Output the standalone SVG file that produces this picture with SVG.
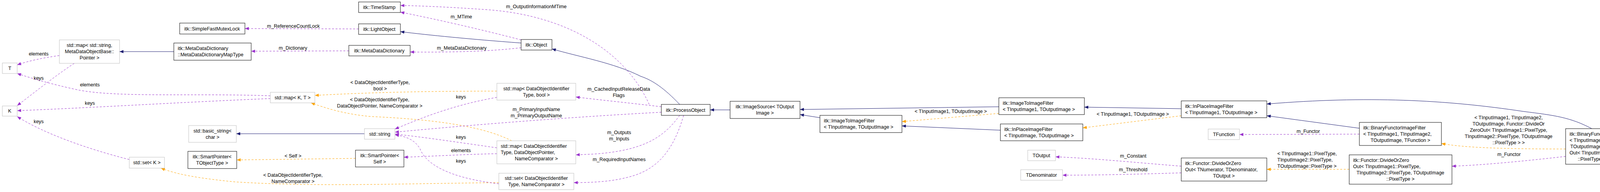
<svg xmlns="http://www.w3.org/2000/svg" width="4592" height="491" viewBox="0 0 4592 491">
<style>
text{font-family:"Liberation Sans",Arial,sans-serif;font-size:12.5px;fill:#000}
.c{text-anchor:middle}
.n rect{fill:#fff;stroke:#000;stroke-width:1}
.g rect{fill:#fff;stroke:#bfbfbf;stroke-width:1}
.h rect{fill:#bfbfbf;stroke:#000;stroke-width:1}
.i{fill:none;stroke:#191970;stroke-width:1;marker-end:url(#aN)}
.u{fill:none;stroke:#9a32cd;stroke-width:1;stroke-dasharray:5,4;marker-end:url(#aP)}
.t{fill:none;stroke:#ffa500;stroke-width:1;stroke-dasharray:5,4;marker-end:url(#aO)}
</style>
<defs>
<marker id="aN" viewBox="0 0 10 8" refX="10" refY="4" markerWidth="11" markerHeight="8" markerUnits="userSpaceOnUse" orient="auto"><path d="M0,0L10,4L0,8z" fill="#191970"/></marker>
<marker id="aP" viewBox="0 0 10 8" refX="10" refY="4" markerWidth="11" markerHeight="8" markerUnits="userSpaceOnUse" orient="auto"><path d="M0,0L10,4L0,8z" fill="#9a32cd"/></marker>
<marker id="aO" viewBox="0 0 10 8" refX="10" refY="4" markerWidth="11" markerHeight="8" markerUnits="userSpaceOnUse" orient="auto"><path d="M0,0L10,4L0,8z" fill="#ffa500"/></marker>
</defs>
<rect width="4592" height="491" fill="#fff"/>
<g id="connectors">
<path class="u" d="M918,74 L627,73"/>
<text class="c" x="751" y="71">m_ReferenceCountLock</text>
<path class="i" d="M1334,110 C1200,100 1100,90 1025,81"/>
<path class="u" d="M1334,102 C1230,75 1120,50 1025,31"/>
<text class="c" x="1181" y="47">m_MTime</text>
<path class="u" d="M1662,267 C1600,130 1450,40 1250,25 C1150,18 1080,15 1025,14"/>
<text class="c" x="1373" y="21">m_OutputInformationMTime</text>
<path class="u" d="M1334,122 C1250,132 1150,134 1050,133"/>
<text class="c" x="1182" y="127">m_MetaDataDictionary</text>
<path class="u" d="M893,130 L643,131"/>
<text class="c" x="750" y="127">m_Dictionary</text>
<path class="i" d="M445,132 L306,132"/>
<path class="u" d="M152,142 C110,148 75,155 44,166"/>
<text class="c" x="99" y="142">elements</text>
<path class="u" d="M190,162 C140,195 90,235 44,270"/>
<text class="c" x="99" y="204">keys</text>
<path class="u" d="M692,245 C500,238 300,250 200,230 C130,215 80,200 44,188"/>
<text class="c" x="230" y="221">elements</text>
<path class="u" d="M692,252 C450,262 250,275 44,283"/>
<text class="c" x="230" y="268">keys</text>
<path class="u" d="M331,408 C220,380 110,340 44,298"/>
<text class="c" x="99" y="315">keys</text>
<path class="t" d="M1272,233 C1100,233 950,236 806,244"/>
<text class="c" x="973" y="215">&lt; DataObjectIdentifierType,</text>
<text class="c" x="973" y="231">bool &gt;</text>
<path class="t" d="M1310,360 C1230,320 1100,305 950,298 C880,292 830,275 796,263"/>
<text class="c" x="972" y="259">&lt; DataObjectIdentifierType,</text>
<text class="c" x="972" y="275">DataObjectPointer, NameComparator &gt;</text>
<path class="t" d="M1277,467 C1000,470 800,478 600,465 C500,455 450,445 412,430"/>
<text class="c" x="750" y="452">&lt; DataObjectIdentifierType,</text>
<text class="c" x="750" y="468">NameComparator &gt;</text>
<path class="u" d="M1272,249 C1150,270 1060,310 1011,330"/>
<text class="c" x="1180" y="252">keys</text>
<path class="u" d="M1693,287 C1450,300 1200,320 1011,338"/>
<text class="c" x="1373" y="284">m_PrimaryInputName</text>
<text class="c" x="1373" y="300">m_PrimaryOutputName</text>
<path class="u" d="M1272,378 C1180,365 1080,350 1011,343"/>
<text class="c" x="1180" y="355">keys</text>
<path class="u" d="M1272,393 C1180,395 1100,400 1034,402"/>
<text class="c" x="1180" y="389">elements</text>
<path class="u" d="M1277,470 C1150,455 1090,420 1075,380 C1060,355 1035,348 1011,345"/>
<text class="c" x="1180" y="416">keys</text>
<path class="t" d="M910,405 L606,409"/>
<text class="c" x="750" y="403">&lt; Self &gt;</text>
<path class="i" d="M933,342 L605,342"/>
<path class="u" d="M1693,273 C1600,262 1530,255 1474,248"/>
<text class="c" x="1584" y="232">m_CachedInputReleaseData</text>
<text class="c" x="1584" y="248">Flags</text>
<path class="u" d="M1740,295 C1700,350 1650,385 1520,394 L1474,396"/>
<text class="c" x="1585" y="343">m_Outputs</text>
<text class="c" x="1585" y="359">m_Inputs</text>
<path class="u" d="M1750,295 C1720,400 1670,440 1600,455 C1560,465 1510,467 1469,467"/>
<text class="c" x="1585" y="412">m_RequiredInputNames</text>
<path class="i" d="M1740,267 C1700,225 1670,205 1640,195 C1570,160 1480,145 1413,125"/>
<path class="i" d="M1869,281 L1818,281"/>
<path class="i" d="M2099,301 L2048,293"/>
<path class="i" d="M2557,273 L2048,280"/>
<path class="t" d="M2557,290 L2309,311"/>
<text class="c" x="2434" y="289">&lt; TInputImage1, TOutputImage &gt;</text>
<path class="i" d="M2561,333 L2309,322"/>
<path class="i" d="M3024,278 L2776,274"/>
<path class="t" d="M3024,296 L2772,327"/>
<text class="c" x="2900" y="296">&lt; TInputImage1, TOutputImage &gt;</text>
<path class="i" d="M3480,328 L3243,296"/>
<path class="u" d="M3480,343 L3173,344"/>
<text class="c" x="3349" y="340">m_Functor</text>
<path class="u" d="M3024,425 C2900,415 2800,405 2702,401"/>
<text class="c" x="2901" y="403">m_Constant</text>
<path class="u" d="M3024,442 C2900,446 2800,448 2720,448"/>
<text class="c" x="2901" y="438">m_Threshold</text>
<path class="t" d="M3454,433 L3243,433"/>
<text x="3270" y="397">&lt; TInputImage1::PixelType,</text>
<text x="3270" y="413">TInputImage2::PixelType,</text>
<text x="3270" y="429">TOutputImage::PixelType &gt;</text>
<path class="i" d="M4075,329 C4020,300 3980,295 3900,285 C3700,255 3500,245 3243,266"/>
<path class="t" d="M4008,381 C3850,381 3750,378 3690,367"/>
<text class="c" x="3862" y="305">&lt; TInputImage1, TInputImage2,</text>
<text class="c" x="3862" y="321">TOutputImage, Functor::DivideOr</text>
<text class="c" x="3862" y="337">ZeroOut&lt; TInputImage1::PixelType,</text>
<text class="c" x="3862" y="353">TInputImage2::PixelType, TOutputImage</text>
<text class="c" x="3862" y="369">::PixelType &gt; &gt;</text>
<path class="u" d="M4008,400 C3900,412 3800,422 3717,425"/>
<text class="c" x="3863" y="399">m_Functor</text>
<path class="i" d="M4349,374 L4300,374"/>
</g>
<g id="SimpleFastMutexLock" class="n"><rect x="460" y="59" width="167" height="28"/><text class="c" x="543" y="78">itk::SimpleFastMutexLock</text></g>
<g id="MapStringMeta" class="g"><rect x="152" y="102" width="154" height="60"/><text class="c" x="229" y="120">std::map&lt; std::string,</text><text class="c" x="229" y="136">MetaDataObjectBase::</text><text class="c" x="229" y="152">Pointer &gt;</text></g>
<g id="MapType" class="n"><rect x="445" y="110" width="198" height="44"/><text x="455" y="128">itk::MetaDataDictionary</text><text x="455" y="144">::MetaDataDictionaryMapType</text></g>
<g id="T" class="g"><rect x="6" y="161" width="38" height="27"/><text class="c" x="25" y="179">T</text></g>
<g id="K" class="g"><rect x="6" y="271" width="38" height="26"/><text class="c" x="25" y="288">K</text></g>
<g id="BasicString" class="g"><rect x="483" y="321" width="122" height="43"/><text class="c" x="544" y="339">std::basic_string&lt;</text><text class="c" x="544" y="355">char &gt;</text></g>
<g id="SmartPointerT" class="n"><rect x="481" y="387" width="125" height="44"/><text class="c" x="543" y="405">itk::SmartPointer&lt;</text><text class="c" x="543" y="421">TObjectType &gt;</text></g>
<g id="SetK" class="g"><rect x="331" y="402" width="90" height="28"/><text class="c" x="376" y="420">std::set&lt; K &gt;</text></g>
<g id="TimeStamp" class="n"><rect x="918" y="5" width="107" height="27"/><text class="c" x="971" y="23">itk::TimeStamp</text></g>
<g id="LightObject" class="n"><rect x="918" y="61" width="107" height="27"/><text class="c" x="971" y="79">itk::LightObject</text></g>
<g id="MetaDataDictionary" class="n"><rect x="893" y="116" width="157" height="27"/><text class="c" x="971" y="134">itk::MetaDataDictionary</text></g>
<g id="MapKT" class="g"><rect x="692" y="236" width="114" height="27"/><text class="c" x="749" y="254">std::map&lt; K, T &gt;</text></g>
<g id="StdString" class="g"><rect x="933" y="329" width="78" height="27"/><text class="c" x="972" y="347">std::string</text></g>
<g id="SmartPointerSelf" class="n"><rect x="910" y="384" width="124" height="43"/><text class="c" x="972" y="402">itk::SmartPointer&lt;</text><text class="c" x="972" y="418">Self &gt;</text></g>
<g id="Object" class="n"><rect x="1334" y="101" width="79" height="27"/><text class="c" x="1373" y="119">itk::Object</text></g>
<g id="MapBool" class="g"><rect x="1272" y="213" width="202" height="43"/><text class="c" x="1373" y="231">std::map&lt; DataObjectIdentifier</text><text class="c" x="1373" y="247">Type, bool &gt;</text></g>
<g id="ProcessObject" class="n"><rect x="1693" y="267" width="125" height="28"/><text class="c" x="1755" y="286">itk::ProcessObject</text></g>
<g id="MapPointer" class="g"><rect x="1272" y="360" width="202" height="59"/><text x="1282" y="378">std::map&lt; DataObjectIdentifier</text><text x="1282" y="394">Type, DataObjectPointer,</text><text class="c" x="1373" y="410">NameComparator &gt;</text></g>
<g id="SetNames" class="g"><rect x="1277" y="443" width="192" height="42"/><text class="c" x="1373" y="460">std::set&lt; DataObjectIdentifier</text><text class="c" x="1373" y="476">Type, NameComparator &gt;</text></g>
<g id="ImageSource" class="n"><rect x="1869" y="259" width="179" height="44"/><text class="c" x="1958" y="277">itk::ImageSource&lt; TOutput</text><text class="c" x="1958" y="293">Image &gt;</text></g>
<g id="ITIF" class="n"><rect x="2099" y="295" width="210" height="44"/><text x="2109" y="313">itk::ImageToImageFilter</text><text x="2109" y="329">&lt; TInputImage, TOutputImage &gt;</text></g>
<g id="ITIF1" class="n"><rect x="2557" y="250" width="219" height="43"/><text x="2567" y="268">itk::ImageToImageFilter</text><text x="2567" y="284">&lt; TInputImage1, TOutputImage &gt;</text></g>
<g id="InPlace" class="n"><rect x="2561" y="317" width="211" height="43"/><text x="2571" y="335">itk::InPlaceImageFilter</text><text x="2571" y="351">&lt; TInputImage, TOutputImage &gt;</text></g>
<g id="TOutput" class="g"><rect x="2631" y="384" width="71" height="27"/><text class="c" x="2666" y="402">TOutput</text></g>
<g id="TDenominator" class="g"><rect x="2613" y="434" width="107" height="27"/><text class="c" x="2666" y="452">TDenominator</text></g>
<g id="InPlace1" class="n"><rect x="3024" y="258" width="219" height="43"/><text x="3034" y="276">itk::InPlaceImageFilter</text><text x="3034" y="292">&lt; TInputImage1, TOutputImage &gt;</text></g>
<g id="TFunction" class="g"><rect x="3093" y="330" width="80" height="27"/><text class="c" x="3133" y="348">TFunction</text></g>
<g id="FunctorGeneric" class="n"><rect x="3024" y="404" width="219" height="59"/><text x="3034" y="422">itk::Functor::DivideOrZero</text><text x="3034" y="438">Out&lt; TNumerator, TDenominator,</text><text class="c" x="3133" y="454">TOutput &gt;</text></g>
<g id="BinaryGeneric" class="n"><rect x="3480" y="313" width="210" height="59"/><text x="3490" y="331">itk::BinaryFunctorImageFilter</text><text x="3490" y="347">&lt; TInputImage1, TInputImage2,</text><text class="c" x="3585" y="363">TOutputImage, TFunction &gt;</text></g>
<g id="FunctorPixel" class="n"><rect x="3454" y="396" width="263" height="75"/><text x="3464" y="414">itk::Functor::DivideOrZero</text><text x="3464" y="430">Out&lt; TInputImage1::PixelType,</text><text class="c" x="3585" y="446">TInputImage2::PixelType, TOutputImage</text><text class="c" x="3585" y="462">::PixelType &gt;</text></g>
<g id="BinaryDivide" class="n"><rect x="4008" y="329" width="292" height="91"/><text x="4018" y="347">itk::BinaryFunctorImageFilter</text><text x="4018" y="363">&lt; TInputImage1, TInputImage2,</text><text x="4020" y="379">TOutputImage, Functor::DivideOrZero</text><text x="4018" y="395">Out&lt; TInputImage1::PixelType, TInputImage2</text><text class="c" x="4154" y="411">::PixelType, TOutputImage::PixelType &gt; &gt;</text></g>
<g id="DivideOrZeroOutImageFilter" class="h"><rect x="4349" y="345" width="238" height="55"/><text x="4359" y="363">itk::DivideOrZeroOutImage</text><text x="4359" y="379">Filter&lt; TInputImage1, TInputImage2,</text><text class="c" x="4468" y="395">TOutputImage &gt;</text></g>
</svg>
